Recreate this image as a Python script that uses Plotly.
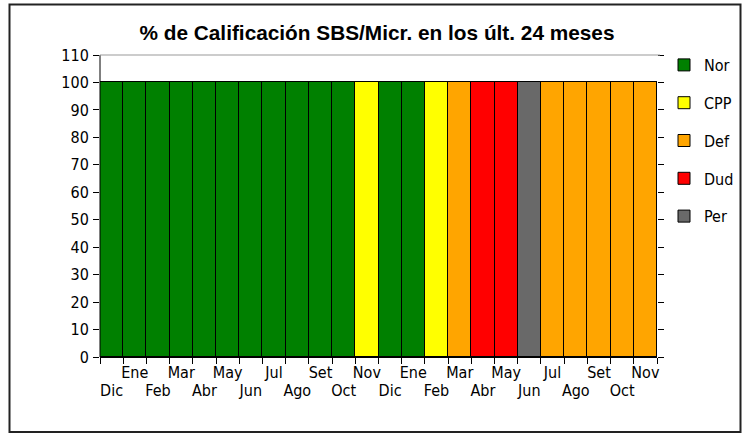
import plotly.graph_objects as go

months = ["Dic", "Ene", "Feb", "Mar", "Abr", "May", "Jun", "Jul", "Ago", "Set", "Oct", "Nov",
          "Dic", "Ene", "Feb", "Mar", "Abr", "May", "Jun", "Jul", "Ago", "Set", "Oct", "Nov"]

nor = [100, 100, 100, 100, 100, 100, 100, 100, 100, 100, 100, 0,
       100, 100, 0, 0, 0, 0, 0, 0, 0, 0, 0, 0]
cpp = [0, 0, 0, 0, 0, 0, 0, 0, 0, 0, 0, 100,
       0, 0, 100, 0, 0, 0, 0, 0, 0, 0, 0, 0]
dfc = [0, 0, 0, 0, 0, 0, 0, 0, 0, 0, 0, 0,
       0, 0, 0, 100, 0, 0, 0, 100, 100, 100, 100, 100]
dud = [0, 0, 0, 0, 0, 0, 0, 0, 0, 0, 0, 0,
       0, 0, 0, 0, 100, 100, 0, 0, 0, 0, 0, 0]
per = [0, 0, 0, 0, 0, 0, 0, 0, 0, 0, 0, 0,
       0, 0, 0, 0, 0, 0, 100, 0, 0, 0, 0, 0]

series_names = ["Nor", "CPP", "Def", "Dud", "Per"]
series_values = [nor, cpp, dfc, dud, per]
series_colors = ["#008000", "#FFFF00", "#FFA500", "#FF0000", "#696969"]

y_ticks = [0, 10, 20, 30, 40, 50, 60, 70, 80, 90, 100, 110]

title = "% de Calificación SBS/Micr. en los últ. 24 meses"

W, H = 747, 434
L, R, T, B = 100, 657, 55, 357  # plot area in pixels
pw, ph = R - L, B - T

def px(x):
    return (x - L) / pw

def py(y):
    return (B - y) / ph

NARROW = "DejaVu Sans Condensed, Liberation Sans Narrow, sans-serif"
FS = 16

idx = list(range(len(months)))
fig = go.Figure()
for name, vals, col in zip(series_names, series_values, series_colors):
    fig.add_trace(go.Bar(
        x=idx, y=[v if v else None for v in vals], name=name,
        marker=dict(color=col, line=dict(color="black", width=1)),
        legendgroup=name, xaxis="x", yaxis="y",
    ))

upper_vals = [i for i in idx if i % 2 == 1]
lower_vals = [i for i in idx if i % 2 == 0]

# second x axis only carries the lower row of month labels
fig.add_trace(go.Bar(x=idx, y=[None] * len(idx), xaxis="x2", yaxis="y",
                     showlegend=False, hoverinfo="skip"))

fig.update_layout(
    width=W, height=H,
    margin=dict(l=L, r=W - R, t=T, b=H - B, pad=0, autoexpand=False),
    paper_bgcolor="white", plot_bgcolor="white",
    barmode="stack", bargap=0,
    showlegend=True,
    title=dict(text="<b>" + title + "</b>", x=px(377), xref="paper", xanchor="center",
               y=1 - 33 / H, yanchor="middle",
               font=dict(family="Liberation Sans, Arial, sans-serif", size=20.8, color="black")),
    font=dict(family=NARROW, size=FS, color="black"),
    legend=dict(x=px(664), xanchor="left", y=py(48), yanchor="top",
                traceorder="grouped", tracegroupgap=14,
                font=dict(family=NARROW, size=FS, color="black"),
                bgcolor="rgba(0,0,0,0)", itemclick=False),
    xaxis=dict(range=[-0.5, 23.5], tickmode="array", tickvals=upper_vals,
               ticktext=[months[i] for i in upper_vals],
               ticks="", showgrid=False, zeroline=False,
               showline=True, linecolor="black", linewidth=1,
               tickfont=dict(family=NARROW, size=FS, color="black"),
               ticklabelstandoff=1,
               minor=dict(tickmode="linear", tick0=-0.5, dtick=1, ticks="outside",
                          ticklen=6, tickcolor="black", tickwidth=1, showgrid=False)),
    xaxis2=dict(range=[-0.5, 23.5], overlaying="x", anchor="y", side="bottom",
                tickmode="array", tickvals=lower_vals,
                ticktext=[months[i] for i in lower_vals],
                ticks="", showgrid=False, zeroline=False, showline=False,
                tickfont=dict(family=NARROW, size=FS, color="black"),
                ticklabelstandoff=22),
    yaxis=dict(range=[0, 110], tickmode="array", tickvals=y_ticks,
               ticks="outside", ticklen=6, tickcolor="black", tickwidth=1,
               showgrid=False, zeroline=False, showline=False, mirror="ticks",
               tickfont=dict(family=NARROW, size=FS, color="black"),
               ticklabelstandoff=1),
)

shapes = [
    # left axis line
    dict(type="line", xref="paper", yref="paper", x0=0, x1=0, y0=0, y1=1,
         line=dict(color="black", width=1)),
    # top line at 110
    dict(type="line", xref="paper", yref="paper", x0=0, x1=px(660), y0=1, y1=1,
         line=dict(color="#999999", width=1)),
    # outer frame
    dict(type="rect", xref="paper", yref="paper",
         x0=px(9.5), x1=px(740.5), y0=py(432), y1=py(4.5),
         line=dict(color="#222222", width=2), layer="above"),
]
fig.update_layout(shapes=shapes)

fig.write_html("out.html", config={"displayModeBar": False},
               post_script="document.body.style.margin='0';")
